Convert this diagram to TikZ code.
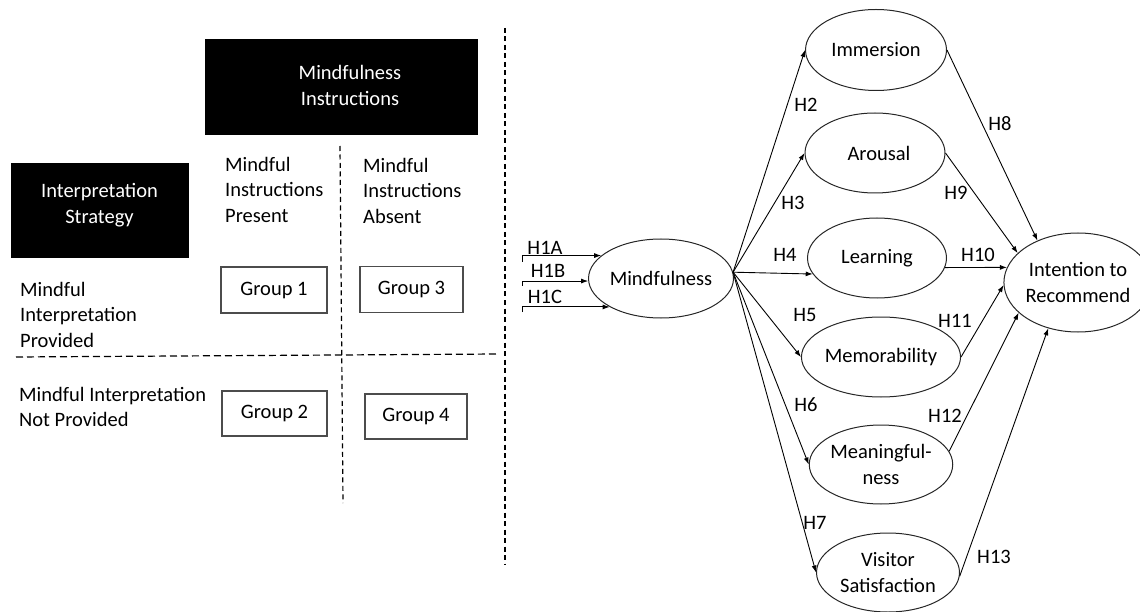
\documentclass[tikz,border=0pt]{standalone}
\usepackage{fontspec}
\setmainfont{Carlito}
\usetikzlibrary{shapes.geometric,arrows.meta}
\begin{document}
\begin{tikzpicture}[x=1pt,y=-1pt,
  every node/.style={font=\fontsize{20.5}{25.5}\selectfont, inner sep=0pt},
  blackbox/.style={fill=black, draw=black},
  wtext/.style={text=white, align=center},
  grp/.style={draw=black!70, line width=1.1pt, minimum height=46pt},
  oval/.style={ellipse, draw=black!85, line width=1pt, align=center},
  conn/.style={line width=0.9pt, -{Latex[length=7pt,width=5pt]}},
  vdash/.style={line width=1.2pt, dash pattern=on 5pt off 3.5pt},
  hdash/.style={line width=1.2pt, dash pattern=on 7pt off 4pt},
]
\useasboundingbox (0,0) rectangle (1140,612);

% header boxes
\node[blackbox, minimum width=272pt, minimum height=95pt] (mibox) at (341,86.5) {};
\node[wtext] (mitext) at ([xshift=9pt,yshift=1pt]mibox.center) {Mindfulness\\Instructions};
\node[blackbox, minimum width=177pt, minimum height=94pt] (isbox) at (99.5,210) {};
\node[wtext] (istext) at ([yshift=5pt]isbox.center) {Interpretation\\Strategy};

% column / row labels
\node[anchor=north west, align=left] (pres) at (225,157) {Mindful\\Instructions\\Present};
\node[anchor=north west, align=left] (abs) at (363,158) {Mindful\\Instructions\\Absent};
\node[anchor=north west, align=left] (prov) at (20,282) {Mindful\\Interpretation\\Provided};
\node[anchor=north west, align=left] (notprov) at (19,387) {Mindful Interpretation\\Not Provided};

% groups
\node[grp, minimum width=106pt] (g1) at (274,290) {Group 1};
\node[grp, minimum width=103pt] (g3) at (411.5,289.5) {Group 3};
\node[grp, minimum width=105pt, minimum height=45pt] (g2) at (274.5,413.5) {Group 2};
\node[grp, minimum width=102pt, minimum height=45pt] (g4) at (416,416.5) {Group 4};

% dashed lines
\draw[vdash] (505,28) -- (505,565);
\draw[vdash] (340,146) -- (343,503);
\draw[hdash] (16,357) -- (498,354);

% mindfulness
\node[oval, minimum width=140pt, minimum height=79pt] (mind) at (661,278.5) {Mindfulness};

\coordinate (sa) at (522,262);
\coordinate (sb) at (522,286);
\coordinate (sc) at (522,312);
\draw[conn] (sa) |- (mind.159);
\draw[conn] (sb) |- (mind.182);
\draw[conn] (sc) |- (mind.209);
\node (h1a) at (545,248) {H1A};
\node (h1b) at (548,271) {H1B};
\node (h1c) at (545,297) {H1C};

% outcome ovals
\node[oval, minimum width=141pt, minimum height=81pt] (imm) at (876,50) {Immersion};
\node[oval, minimum width=140pt, minimum height=80pt] (aro) at (875,153) {\hspace*{8pt}Arousal};
\node[oval, minimum width=139pt, minimum height=80pt] (learn) at (877,258) {Learning};
\node[oval, minimum width=140pt, minimum height=80pt] (mem) at (881,357) {Memorability};
\node[oval, minimum width=140pt, minimum height=79pt] (mean) at (881,464.5) {Meaningful-\\ness};
\node[oval, minimum width=143pt, minimum height=79pt] (vis) at (888,572.5) {Visitor\\Satisfaction};
\node[oval, minimum width=142pt, minimum height=99pt] (int) at (1078,282.5) {Intention to\\Recommend};

% paths from mindfulness
\draw[conn] (mind.5) -- (imm.west);
\draw[conn] (mind.5) -- (aro.west);
\draw[conn] (mind.5) -- (learn.194);
\draw[conn] (mind.5) -- (mem.west);
\draw[conn] (mind.5) -- (mean.west);
\draw[conn] (mind.5) -- (vis.west);

% paths to intention
\draw[conn] (imm.east) -- (int.134);
\draw[conn] (aro.east) -- (int.154);
\draw[conn] (learn.352) -- (int.168);
\draw[conn] (mem.east) -- (int.182);
\draw[conn] (mean.11) -- (int.207);
\draw[conn] (vis.357) -- (int.237);

% hypothesis labels
\node (h2) at (806,105) {H2};
\node (h3) at (793,203) {H3};
\node (h4) at (785,255) {H4};
\node (h5) at (805,315) {H5};
\node (h6) at (806,405) {H6};
\node (h7) at (815,523) {H7};
\node (h8) at (1000,124) {H8};
\node (h9) at (956,193) {H9};
\node (h10) at (978,255) {H10};
\node (h11) at (955,321) {H11};
\node (h12) at (945,416) {H12};
\node (h13) at (994,557) {H13};
\end{tikzpicture}
\end{document}
